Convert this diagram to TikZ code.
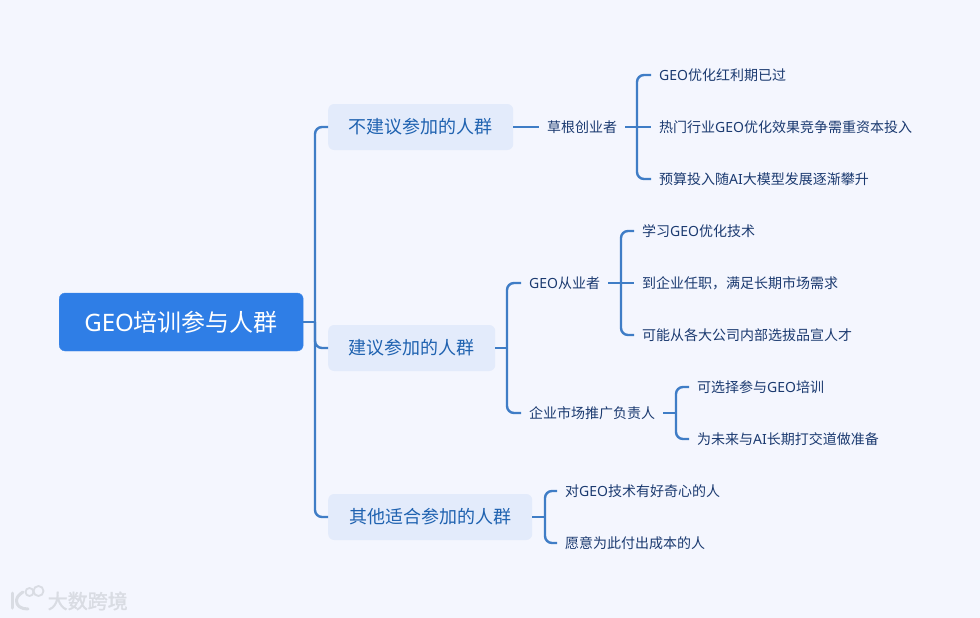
\documentclass[tikz,border=0pt]{standalone}
\usepackage{fontspec}
\setmainfont{Noto Sans CJK SC}
\newfontfamily\latf{Noto Sans}
\newfontfamily\wmf[FakeBold=1.6]{Noto Sans CJK SC}
\newcommand{\GEOt}{{\latf GEO}}
\newcommand{\AIt}{{\latf AI}}
\definecolor{bgc}{HTML}{F4F6FE}
\definecolor{linec}{HTML}{3F7DC6}
\definecolor{rootc}{HTML}{2F7EE6}
\definecolor{boxc}{HTML}{E3EBFB}
\definecolor{midc}{HTML}{1F62B0}
\definecolor{leafc}{HTML}{1B3A70}
\definecolor{wmc}{HTML}{D9DCE3}
\tikzset{
  px/.style={x=1pt,y=-1pt},
  rootbox/.style={draw=rootc!90!white,fill=rootc,rounded corners=6pt,text=white,font=\fontsize{24}{24}\selectfont,text height=21.1pt,text depth=2.9pt,minimum width=244pt,minimum height=58pt,inner sep=0pt,anchor=west},
  midbox/.style={fill=boxc,rounded corners=6pt,text=midc,font=\fontsize{18}{18}\selectfont,text height=15.8pt,text depth=2.2pt,minimum height=46pt,inner sep=0pt,anchor=west},
  leaf/.style={text=leafc,font=\fontsize{14}{14}\selectfont,text height=12.3pt,text depth=1.7pt,inner xsep=8pt,inner ysep=2pt,anchor=west},
  conn/.style={draw=linec,line width=2.4pt,rounded corners=7pt},
  wmtext/.style={text=wmc,font=\wmf\fontsize{20}{20}\selectfont,inner sep=0pt,anchor=west},
  wmline/.style={draw=wmc,line width=3pt,line cap=round,line join=round}
}
\begin{document}
\begin{tikzpicture}[px]
\useasboundingbox (0,0) rectangle (980,618);
\fill[bgc] (0,0) rectangle (980,618);

\node[rootbox] (root) at (59,322) {\GEOt 培训参与人群};
\node[midbox,minimum width=185pt] (a) at (328,127) {不建议参加的人群};
\node[midbox,minimum width=167pt] (b) at (328,348) {建议参加的人群};
\node[midbox,minimum width=204pt] (c) at (328,517) {其他适合参加的人群};

\node[leaf] (a1) at (539,127) {草根创业者};
\node[leaf] (a11) at (651,75) {\GEOt 优化红利期已过};
\node[leaf] (a12) at (651,127) {热门行业\GEOt 优化效果竞争需重资本投入};
\node[leaf] (a13) at (651,179) {预算投入随\AIt 大模型发展逐渐攀升};

\node[leaf] (b1) at (521,283) {\GEOt 从业者};
\node[leaf] (b11) at (634,231) {学习\GEOt 优化技术};
\node[leaf] (b12) at (634,283) {到企业任职，满足长期市场需求};
\node[leaf] (b13) at (634,335) {可能从各大公司内部选拔品宣人才};
\node[leaf] (b2) at (521,413) {企业市场推广负责人};
\node[leaf] (b21) at (689,387) {可选择参与\GEOt 培训};
\node[leaf] (b22) at (689,439) {为未来与\AIt 长期打交道做准备};

\node[leaf] (c1) at (557,491) {对\GEOt 技术有好奇心的人};
\node[leaf] (c2) at (557,543) {愿意为此付出成本的人};

\coordinate (t0) at (315,322);
\coordinate (ta) at (637,127);
\coordinate (tb) at (507,348);
\coordinate (tb1) at (621,283);
\coordinate (tb2) at (676,413);
\coordinate (tc) at (545,517);

\draw[conn] (root.east) -- (t0);
\draw[conn] (a.west) -| (t0);
\draw[conn] (b.west) -| (t0);
\draw[conn] (c.west) -| (t0);

\draw[conn] (a.east) -- (a1.west);
\draw[conn] (a1.east) -- (ta);
\draw[conn] (a11.west) -| (ta);
\draw[conn] (ta) -- (a12.west);
\draw[conn] (a13.west) -| (ta);

\draw[conn] (b.east) -- (tb);
\draw[conn] (b1.west) -| (tb);
\draw[conn] (b2.west) -| (tb);
\draw[conn] (b1.east) -- (tb1);
\draw[conn] (b11.west) -| (tb1);
\draw[conn] (tb1) -- (b12.west);
\draw[conn] (b13.west) -| (tb1);
\draw[conn] (b2.east) -- (tb2);
\draw[conn] (b21.west) -| (tb2);
\draw[conn] (b22.west) -| (tb2);

\draw[conn] (c.east) -- (tc);
\draw[conn] (c1.west) -| (tc);
\draw[conn] (c2.west) -| (tc);

% watermark
\draw[wmline] (12,593) -- (12,608);
\draw[wmline] (23,592) .. controls (18,595) and (16.5,598) .. (16.5,601) .. controls (16.5,606) and (21,609) .. (28,609);
\draw[draw=wmc,line width=1.8pt] (29.5,592) circle (4);
\draw[draw=wmc,line width=1.8pt] (38.5,591) circle (5);
\node[wmtext] (wm) at (47.5,601) {大数跨境};
\end{tikzpicture}
\end{document}
